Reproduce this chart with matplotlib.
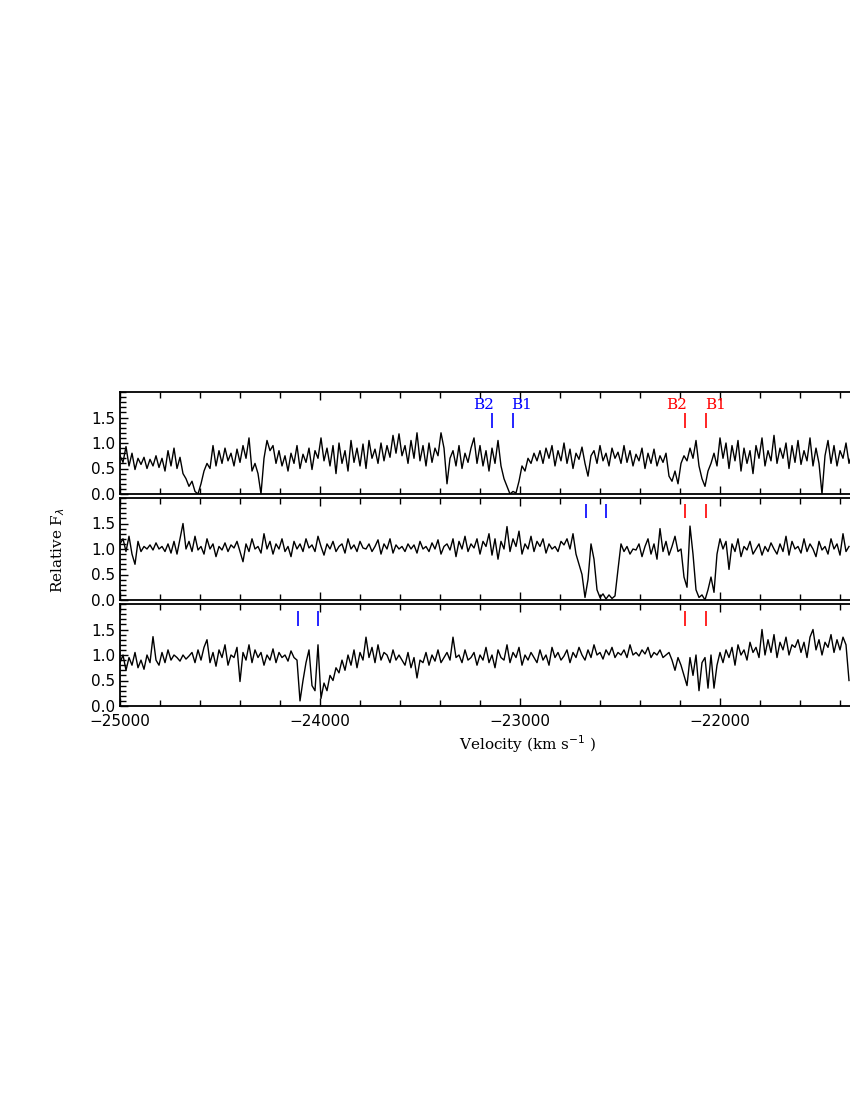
import numpy as np
import matplotlib
matplotlib.use("Agg")
import matplotlib.pyplot as plt
from matplotlib.ticker import MultipleLocator

# ---------------- data ----------------
V_START = -25000.0      # velocity of first sample (km/s)
V_STEP = 15.0           # sampling step (km/s)

flux_top = [
    0.75, 0.62, 0.93, 0.55, 0.80, 0.48, 0.70, 0.58, 0.72, 0.50, 0.68, 0.55, 0.75, 0.52,
    0.70, 0.45, 0.85, 0.55, 0.90, 0.50, 0.72,
    0.40, 0.30, 0.15, 0.25, 0.05, 0.00, 0.20,
    0.45, 0.60, 0.50,
    0.95, 0.55, 0.85, 0.60, 0.90, 0.65, 0.80, 0.55, 0.88, 0.62, 0.95, 0.70, 1.10,
    0.45, 0.60, 0.40, 0.00,
    0.70, 1.05, 0.85, 0.95, 0.60,
    0.85, 0.55, 0.75, 0.45, 0.80, 0.60, 0.95, 0.50, 0.78, 0.62, 0.90, 0.48, 0.85, 0.70,
    1.10, 0.65, 0.90, 0.55, 0.95, 0.40, 1.00, 0.60, 0.85, 0.45, 1.05, 0.62, 0.90, 0.55,
    0.98, 0.50, 1.05, 0.70, 0.88, 0.60, 1.00, 0.65, 0.95, 0.72, 1.15, 0.80, 1.18, 0.75,
    0.95, 0.60, 1.05, 0.70, 1.20, 0.65, 0.95, 0.55, 1.00, 0.62, 0.90, 0.75, 1.20, 0.90,
    0.20, 0.70, 0.85, 0.55, 0.95, 0.50, 0.80, 0.62, 0.90, 1.10, 0.60, 0.95, 0.55, 0.85,
    0.45, 0.90, 0.60, 1.05, 0.55,
    0.30, 0.15, 0.00, 0.05, 0.02,
    0.25, 0.55, 0.45, 0.70, 0.60, 0.80,
    0.65, 0.85, 0.60, 0.90, 0.70, 0.95, 0.55, 0.85, 0.65, 1.00, 0.60, 0.88, 0.50, 0.80,
    0.68, 0.92, 0.60, 0.35, 0.75, 0.85, 0.60, 0.95, 0.65, 0.80, 0.55, 0.90, 0.70, 0.82,
    0.60, 0.95, 0.62, 0.85, 0.55, 0.78, 0.65, 0.90, 0.50, 0.80, 0.60, 0.88, 0.55, 0.75,
    0.62, 0.80,
    0.35, 0.25, 0.45, 0.20,
    0.60, 0.75, 0.65, 0.90, 0.70, 1.05, 0.55,
    0.30, 0.15, 0.45,
    0.60, 0.80, 0.55, 1.10,
    0.70, 1.00, 0.50, 0.95, 0.65, 1.05, 0.45, 0.90, 0.60, 0.85, 0.40, 0.95, 0.70, 1.10,
    0.55, 0.85, 0.65, 1.15, 0.60, 0.90, 0.70, 1.00, 0.50, 0.95, 0.62, 1.05, 0.58, 0.85,
    0.65, 1.10, 0.55, 0.90, 0.60, 0.00, 0.75, 1.05, 0.60, 0.95, 0.55, 0.85, 0.70, 1.00,
    0.60, 0.80,
]

flux_mid = [
    1.10, 1.20, 0.95, 1.25, 0.90, 0.70, 1.15, 0.95, 1.05, 1.00, 1.08, 0.98, 1.12, 1.00,
    1.05, 0.95, 1.10, 0.92, 1.15, 0.90, 1.20, 1.50, 1.00, 1.15, 0.95, 1.25, 0.98, 1.05,
    0.90, 1.20, 1.00, 1.10, 0.85, 1.05, 0.98, 1.12, 0.95, 1.08, 1.02, 1.15, 0.95, 0.75,
    1.10, 0.95, 1.20, 1.00, 1.05, 0.92, 1.30, 1.00, 1.15, 0.90, 1.10, 1.00, 1.20, 0.95,
    1.05, 0.85, 1.15, 1.00, 1.10, 0.95, 1.20, 1.02, 1.08, 0.95, 1.25, 1.05, 0.88, 1.10,
    1.00, 1.15, 0.95, 1.05, 1.10, 0.92, 1.20, 1.00, 1.08, 0.95, 1.15, 1.02, 1.00, 1.10,
    0.95, 1.05, 1.18, 0.90, 1.10, 1.00, 1.20, 0.92, 1.08, 1.00,
    1.05, 0.95, 1.10, 1.00, 1.08, 0.92, 1.15, 1.00, 1.05, 0.95, 1.12, 1.00, 1.18, 0.90,
    1.05, 1.10, 0.98, 1.20, 0.85, 1.15, 1.00, 1.25, 0.95, 1.10, 1.02, 1.20, 0.90, 1.15,
    1.05, 1.30, 0.88, 1.20, 0.80, 1.15, 1.00, 1.44, 0.95, 1.20, 1.05, 1.35, 0.90, 1.10,
    1.00, 1.25, 0.95, 1.15, 1.05, 1.20, 0.92, 1.10, 1.00, 1.05, 0.95, 1.15, 1.08, 1.20,
    1.00, 1.30,
    0.90, 0.70, 0.50, 0.05, 0.40, 1.10, 0.80, 0.20, 0.05, 0.12, 0.02, 0.10, 0.03, 0.08,
    0.60,
    1.10, 0.95, 1.05, 0.90, 1.00, 0.98, 1.10, 0.85, 1.05, 1.20, 0.90, 1.10, 0.80, 1.40,
    0.95, 1.15, 0.88, 1.05, 1.25, 0.95,
    1.00, 0.45, 0.25, 1.45, 0.90, 0.20,
    0.05, 0.10, 0.00, 0.20, 0.45,
    0.15, 0.90, 1.20,
    1.00, 1.15, 0.60, 1.10, 0.95, 1.20, 0.85, 1.05, 0.98, 1.15, 0.90, 1.00, 1.10, 0.88,
    1.05, 0.95, 1.12, 1.00, 0.90, 1.10, 0.95, 1.25, 0.88, 1.15, 1.00, 1.05, 0.92, 1.20,
    0.95, 1.10, 1.00, 0.85, 1.15, 0.98, 1.05, 0.90, 1.20, 1.00, 1.10, 0.88, 1.30, 0.95,
    1.05,
]

flux_bot = [
    0.85, 1.00, 0.70, 0.95, 0.80, 1.05, 0.75, 0.90, 0.72, 1.00, 0.85, 1.36, 0.90, 0.80,
    1.05, 0.85, 1.10, 0.90, 1.00, 0.95, 0.88, 1.00, 0.92, 0.98, 1.05, 0.85, 1.10, 0.90,
    1.15, 1.30, 0.85, 1.05, 0.78, 1.10, 0.95, 1.20, 0.80, 1.00, 0.95, 1.15, 0.48, 1.05,
    0.90, 1.20, 0.85, 1.10, 0.95, 1.05, 0.80, 1.00, 0.90, 1.12, 0.85, 1.05, 0.95, 1.00,
    0.88, 1.08, 0.95, 0.90,
    0.10, 0.50, 0.85, 1.10, 0.40, 0.30, 1.20, 0.15, 0.45, 0.30, 0.60, 0.50,
    0.75, 0.65, 0.90, 0.70, 1.00, 0.80, 1.10, 0.75, 1.05, 0.90, 1.35, 0.95, 1.15, 0.85,
    1.20, 0.90, 1.05, 1.00, 0.85, 1.10, 0.90, 1.00,
    0.90, 0.80, 1.05, 0.75, 0.95, 0.55, 0.90, 0.85, 1.05, 0.80, 1.00, 0.88, 1.10, 0.85,
    0.95, 1.05, 0.90, 1.35, 0.95, 1.00, 0.85, 1.10, 0.90, 0.95, 1.05, 0.80, 1.00, 0.90,
    1.15, 0.85, 1.00, 0.75, 1.10, 0.95, 0.90, 1.20, 0.85, 1.05, 0.95, 1.15, 0.80, 1.00,
    0.90, 1.05, 0.95, 0.85, 1.10, 0.90, 1.00, 0.80, 1.15, 0.95, 1.05, 0.90, 0.98, 1.10,
    0.85, 1.05, 0.95, 1.15, 1.00, 0.90, 1.10, 0.95, 1.20, 1.00, 1.05, 0.92, 1.10, 1.00,
    1.15, 0.95, 1.05, 1.00, 1.10, 0.95, 1.20, 1.00, 1.05, 0.98, 1.10, 1.02, 1.15, 0.95,
    1.05, 1.00, 1.10, 0.95, 1.00, 1.05, 0.90, 0.70, 0.95, 0.80,
    0.60, 0.40, 0.95, 0.60, 1.00, 0.30, 0.85, 0.95, 0.35, 1.00, 0.35, 0.80,
    1.05, 0.85, 1.10, 0.95, 1.15, 0.80, 1.20, 1.00, 1.10, 0.90, 1.25, 1.05, 1.15, 0.95,
    1.50, 1.00, 1.30, 1.05, 1.40, 0.95, 1.25, 1.10, 1.35, 1.00, 1.20, 1.15, 1.30, 1.05,
    1.25, 0.95, 1.35, 1.50, 1.10, 1.30, 1.00, 1.25, 1.15, 1.40, 1.05, 1.30, 1.10, 1.35,
    1.20, 0.50,
]

panels = [flux_top, flux_mid, flux_bot]

# component markers (velocity) per panel: blue pair and red pair
blue_marks = [[-23140, -23035], [-22672, -22570], [-24108, -24008]]
red_marks = [[-22175, -22070], [-22175, -22070], [-22175, -22070]]
mark_labels = ["B2", "B1"]

x_tick_vals = [-25000, -24000, -23000, -22000]
x_tick_labels = ["\u221225000", "\u221224000", "\u221223000", "\u221222000"]
y_tick_vals = [0.0, 0.5, 1.0, 1.5]
y_tick_labels = ["0.0", "0.5", "1.0", "1.5"]

# ---------------- figure ----------------
fig = plt.figure(figsize=(8.5, 11), dpi=100)

left = 120 / 850
width = 800 / 850           # axes extend past right edge (clipped like reference)
h = 102 / 1100
bottoms = [1 - 494 / 1100, 1 - 600 / 1100, 1 - 706 / 1100]
mark_y = [(1.29, 1.59), (1.61, 1.88), (1.57, 1.86)]

for k, flux in enumerate(panels):
    ax = fig.add_axes([left, bottoms[k], width, h])
    v = V_START + V_STEP * np.arange(len(flux))
    ax.plot(v, flux, color="black", lw=1.0)
    ax.set_xlim(-25000, -21000)
    ax.set_ylim(0, 2.0)
    ax.xaxis.set_minor_locator(MultipleLocator(200))
    ax.yaxis.set_minor_locator(MultipleLocator(0.1))
    ax.set_xticks(x_tick_vals)
    ax.set_yticks(y_tick_vals)
    ax.set_yticklabels(y_tick_labels)
    ax.tick_params(which="both", direction="in", top=True, right=True,
                   width=1.0, labelsize=11)
    ax.tick_params(which="major", length=6)
    ax.tick_params(which="minor", length=4)
    ax.tick_params(axis="x", pad=6)
    for s in ax.spines.values():
        s.set_linewidth(1.3)
    if k < 2:
        ax.tick_params(labelbottom=False)
    else:
        ax.set_xticklabels(x_tick_labels)

    y0, y1 = mark_y[k]
    ax.vlines(blue_marks[k], y0, y1, color="#0000ff", lw=1.2)
    ax.vlines(red_marks[k], y0, y1, color="#ff0000", lw=1.2)
    if k == 0:
        for xm, lab, off in zip(blue_marks[k], mark_labels, [-40, 45]):
            ax.text(xm + off, 1.745, lab, color="#0000ff", ha="center",
                    va="center", fontsize=11, family="DejaVu Serif")
        for xm, lab, off in zip(red_marks[k], mark_labels, [-40, 50]):
            ax.text(xm + off, 1.745, lab, color="#ff0000", ha="center",
                    va="center", fontsize=11, family="DejaVu Serif")

fig.text(58 / 850, 1 - 550 / 1100, r"Relative F$_\lambda$", rotation=90,
         ha="center", va="center", fontsize=11, family="DejaVu Serif")
fig.text(528 / 850, 1 - 744 / 1100, r"Velocity (km s$^{-1}$ )",
         ha="center", va="center", fontsize=11, family="DejaVu Serif")

fig.savefig("out.png", dpi=100)
